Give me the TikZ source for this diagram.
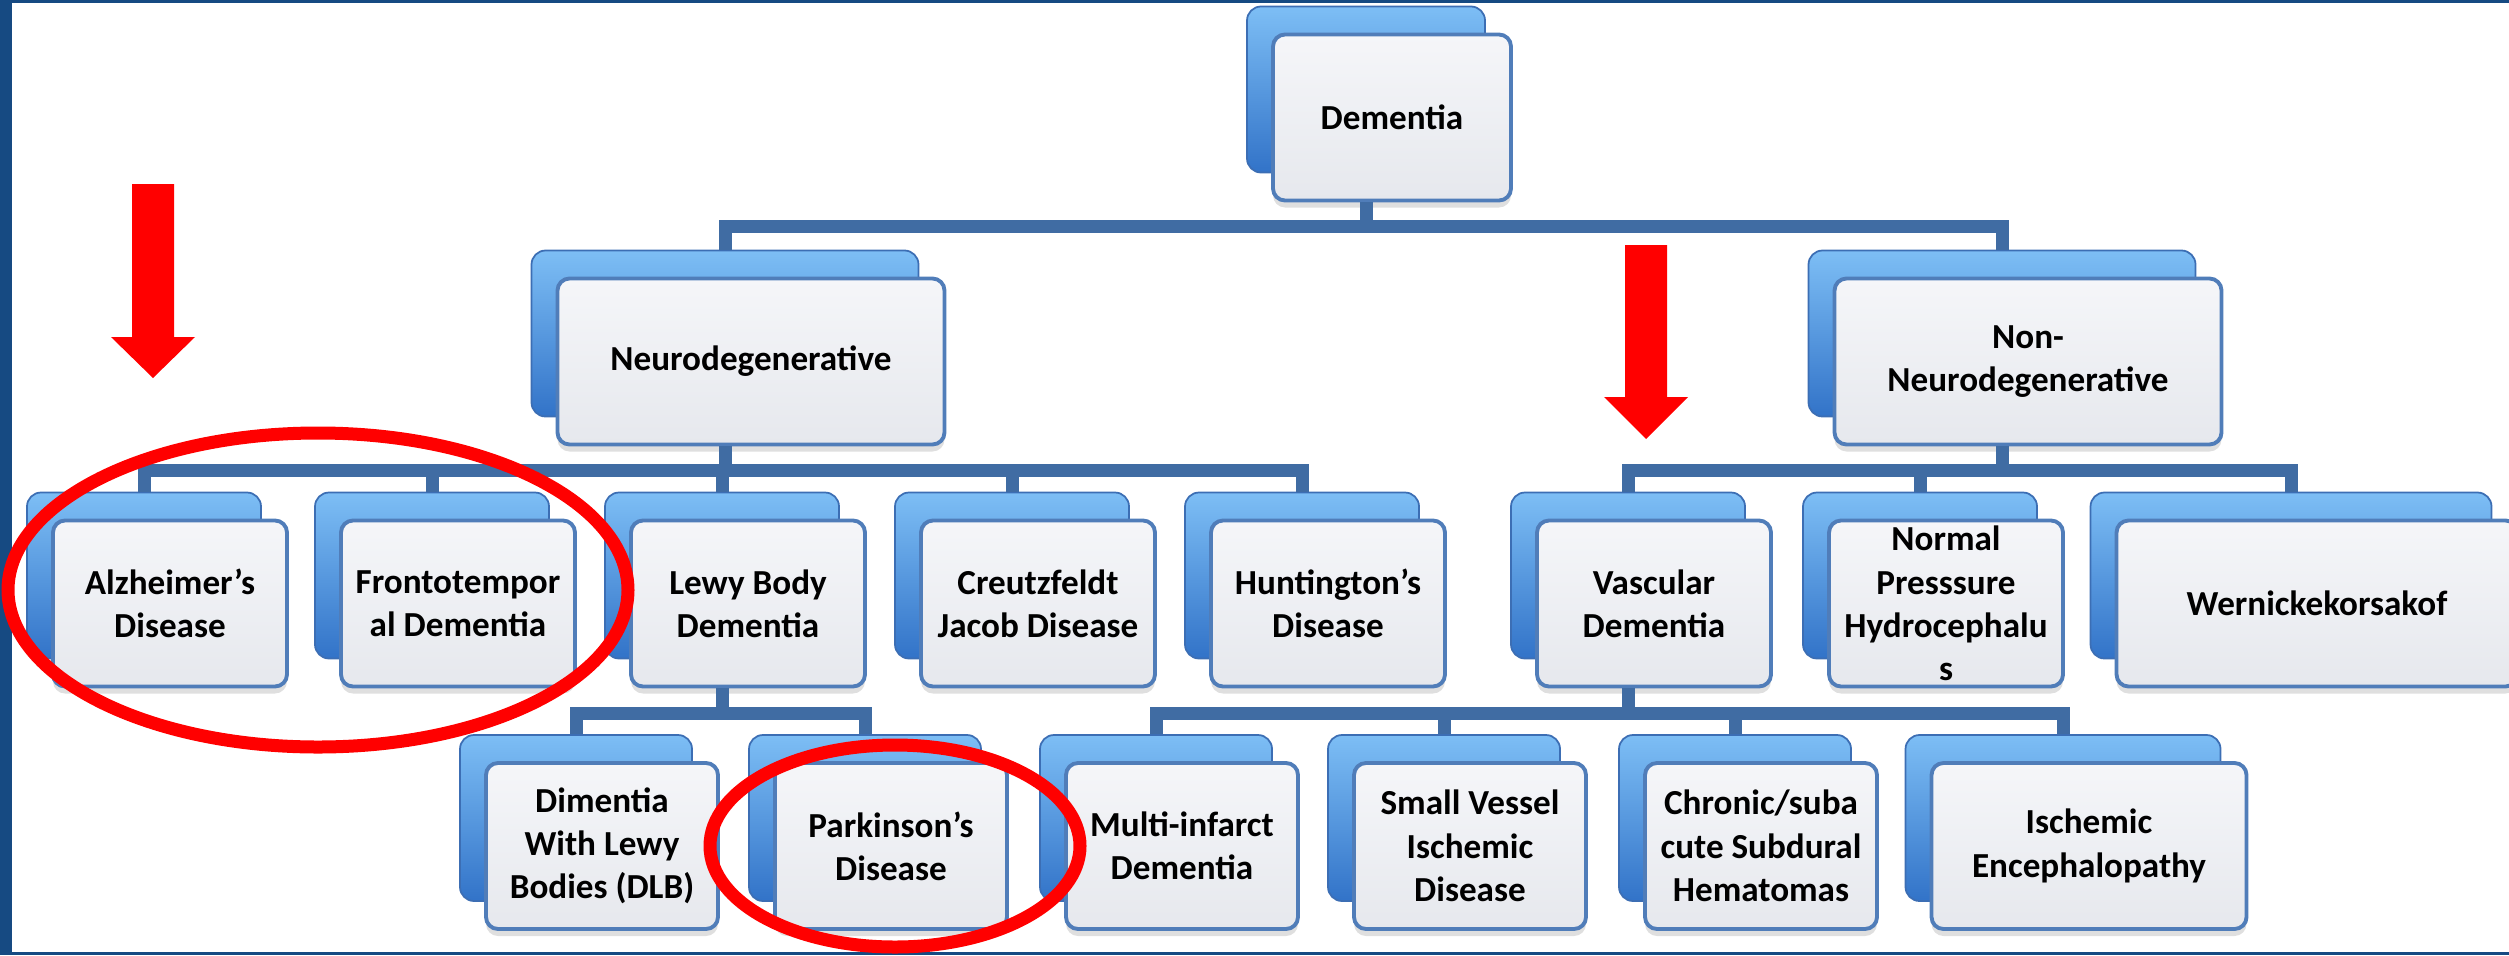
\documentclass[tikz,border=0pt]{standalone}
\usepackage{fontspec}
\setmainfont{Carlito}
\usepackage{tikz}
\usetikzlibrary{positioning, shadows}

\definecolor{frameblue}{RGB}{22,74,130}
\definecolor{linkblue}{RGB}{64,108,163}
\definecolor{tabtop}{RGB}{125,190,245}
\definecolor{tabbot}{RGB}{50,115,200}
\definecolor{tabline}{RGB}{60,110,180}
\definecolor{cardline}{RGB}{80,125,185}
\definecolor{cardtop}{RGB}{245,246,249}
\definecolor{cardbot}{RGB}{230,232,237}

\begin{document}
\begin{tikzpicture}[
        tab/.style={rectangle, rounded corners=0.14cm, top color=tabtop, bottom color=tabbot, draw=tabline, line width=0.5pt, minimum height=1.66cm, inner sep=0pt},
        card/.style={rectangle, rounded corners=0.12cm, top color=cardtop, bottom color=cardbot, draw=cardline, line width=1.1pt, minimum height=1.66cm, inner sep=0pt, align=center, font=\bfseries\fontsize{10}{12.3}\selectfont, xshift=0.26cm, yshift=-0.28cm, drop shadow={shadow xshift=0cm, shadow yshift=-0.07cm, opacity=0.25}},
        link/.style={draw=linkblue, line width=0.13cm},
        ring/.style={draw=red, line width=0.13cm},
        pointer/.style={fill=red}
    ]
    \useasboundingbox (0,0) rectangle (25.09,-9.55);
    \fill[frameblue] (0,0) rectangle (0.12,-9.55);
    \fill[frameblue] (0,0) rectangle (25.09,-0.03);
    \fill[frameblue] (0,-9.52) rectangle (25.09,-9.55);

    \coordinate (lvA) at (0,-2.26);
    \coordinate (lvB) at (0,-4.70);
    \coordinate (lvC) at (0,-7.13);

    % level 0
    \node[tab, minimum width=2.38cm] (demB) at (13.66,-0.895) {};
    \node[card, minimum width=2.38cm] (dem) at (demB) {Dementia};

    % level 1
    \node[tab, minimum width=3.87cm] (neuB) at (7.25,-3.335) {};
    \node[card, minimum width=3.87cm] (neu) at (neuB) {Neurodegenerative};
    \node[tab, minimum width=3.87cm] (nonB) at (20.02,-3.335) {};
    \node[card, minimum width=3.87cm] (non) at (nonB) {Non-\\Neurodegenerative};

    % level 2
    \node[tab, minimum width=2.34cm] (alzB) at (1.44,-5.755) {};
    \node[card, minimum width=2.34cm] (alz) at (alzB) {Alzheimer's\\Disease};
    \node[tab, minimum width=2.34cm] (ftdB) at (4.32,-5.755) {};
    \node[card, minimum width=2.34cm] (ftd) at (ftdB) {Frontotempor\\al Dementia};
    \node[tab, minimum width=2.34cm] (lbdB) at (7.22,-5.755) {};
    \node[card, minimum width=2.34cm] (lbd) at (lbdB) {Lewy Body\\Dementia};
    \node[tab, minimum width=2.34cm] (cjdB) at (10.12,-5.755) {};
    \node[card, minimum width=2.34cm] (cjd) at (cjdB) {Creutzfeldt\\Jacob Disease};
    \node[tab, minimum width=2.34cm] (hdB) at (13.02,-5.755) {};
    \node[card, minimum width=2.34cm] (hd) at (hdB) {Huntington's\\Disease};
    \node[tab, minimum width=2.34cm] (vasB) at (16.28,-5.755) {};
    \node[card, minimum width=2.34cm] (vas) at (vasB) {Vascular\\Dementia};
    \node[tab, minimum width=2.34cm] (nphB) at (19.20,-5.755) {};
    \node[card, minimum width=2.34cm] (nph) at (nphB) {Normal\\Presssure\\Hydrocephalu\\s};
    \node[tab, minimum width=4.01cm] (wkB) at (22.91,-5.755) {};
    \node[card, minimum width=4.01cm] (wk) at (wkB) {Wernickekorsakof};

    % level 3
    \node[tab, minimum width=2.32cm] (dlbB) at (5.76,-8.18) {};
    \node[card, minimum width=2.32cm] (dlb) at (dlbB) {Dimentia\\With Lewy\\Bodies (DLB)};
    \node[tab, minimum width=2.32cm] (pdB) at (8.65,-8.18) {};
    \node[card, minimum width=2.32cm] (pd) at (pdB) {Parkinson's\\Disease};
    \node[tab, minimum width=2.32cm] (midB) at (11.56,-8.18) {};
    \node[card, minimum width=2.32cm] (mid) at (midB) {Multi-infarct\\Dementia};
    \node[tab, minimum width=2.32cm] (svdB) at (14.44,-8.18) {};
    \node[card, minimum width=2.32cm] (svd) at (svdB) {Small Vessel\\Ischemic\\Disease};
    \node[tab, minimum width=2.32cm] (sdhB) at (17.35,-8.18) {};
    \node[card, minimum width=2.32cm] (sdh) at (sdhB) {Chronic/suba\\cute Subdural\\Hematomas};
    \node[tab, minimum width=3.15cm] (ieB) at (20.63,-8.18) {};
    \node[card, minimum width=3.15cm] (ie) at (ieB) {Ischemic\\Encephalopathy};

    % connectors
    \draw[link] (demB |- dem.south) -- (demB |- lvA) -| (neuB.north);
    \draw[link] (demB |- dem.south) -- (demB |- lvA) -| (nonB.north);

    \draw[link] (neuB |- neu.south) -- (neuB |- lvB) -| (alzB.north);
    \draw[link] (neuB |- neu.south) -- (neuB |- lvB) -| (ftdB.north);
    \draw[link] (neuB |- neu.south) -- (neuB |- lvB) -| (lbdB.north);
    \draw[link] (neuB |- neu.south) -- (neuB |- lvB) -| (cjdB.north);
    \draw[link] (neuB |- neu.south) -- (neuB |- lvB) -| (hdB.north);
    \draw[link] (nonB |- non.south) -- (nonB |- lvB) -| (vasB.north);
    \draw[link] (nonB |- non.south) -- (nonB |- lvB) -| (nphB.north);
    \draw[link] (nonB |- non.south) -- (nonB |- lvB) -| (wkB.north);

    \draw[link] (lbdB |- lbd.south) -- (lbdB |- lvC) -| (dlbB.north);
    \draw[link] (lbdB |- lbd.south) -- (lbdB |- lvC) -| (pdB.north);
    \draw[link] (vasB |- vas.south) -- (vasB |- lvC) -| (midB.north);
    \draw[link] (vasB |- vas.south) -- (vasB |- lvC) -| (svdB.north);
    \draw[link] (vasB |- vas.south) -- (vasB |- lvC) -| (sdhB.north);
    \draw[link] (vasB |- vas.south) -- (vasB |- lvC) -| (ieB.north);

    % red marks
    \draw[ring] (3.18,-5.90) ellipse (3.10 and 1.57);
    \draw[ring] (8.95,-8.46) ellipse (1.85 and 1.01);
    \fill[pointer] (1.32,-1.84) -- (1.74,-1.84) -- (1.74,-3.37) -- (1.95,-3.37) -- (1.53,-3.78) -- (1.11,-3.37) -- (1.32,-3.37) -- cycle;
    \fill[pointer] (16.25,-2.45) -- (16.67,-2.45) -- (16.67,-3.97) -- (16.88,-3.97) -- (16.46,-4.39) -- (16.04,-3.97) -- (16.25,-3.97) -- cycle;
\end{tikzpicture}
\end{document}
